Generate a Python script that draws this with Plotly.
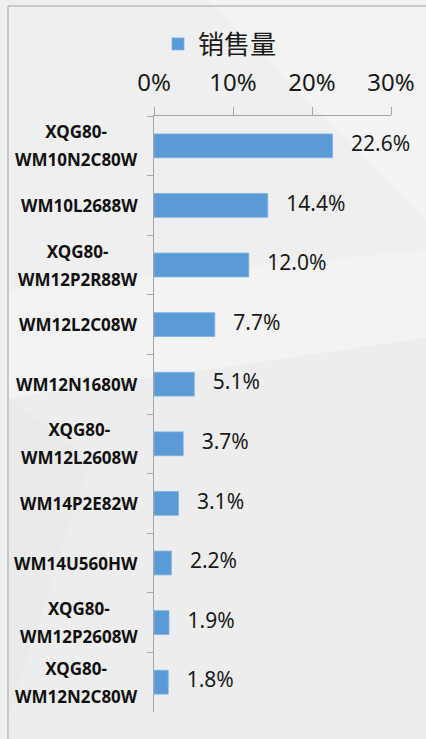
import plotly.graph_objects as go

categories = ["XQG80-WM10N2C80W", "WM10L2688W", "XQG80-WM12P2R88W", "WM12L2C08W",
              "WM12N1680W", "XQG80-WM12L2608W", "WM14P2E82W", "WM14U560HW",
              "XQG80-WM12P2608W", "XQG80-WM12N2C80W"]
values = [22.6, 14.4, 12.0, 7.7, 5.1, 3.7, 3.1, 2.2, 1.9, 1.8]
x_ticks = [0, 10, 20, 30]
x_tick_labels = ["0%", "10%", "20%", "30%"]
series_name = "销售量"

W, H = 426, 739
L, R, T, B = 154, 35, 116, 27
PW, PH = W - L - R, H - T - B


def xp(px):
    return (px - L) / PW


def yp(py):
    return (H - B - py) / PH


def poly(pts):
    return "M" + " L".join(f"{xp(a):.4f},{yp(b):.4f}" for a, b in pts) + " Z"


fig = go.Figure()
fig.add_trace(go.Bar(
    y=categories, x=values, orientation="h", name=series_name,
    marker=dict(color="#5B9BD5", line=dict(color="#7fb2e0", width=0.8)),
    width=0.4, showlegend=True, hoverinfo="x+y",
))
# data labels placed just right of each bar end
fig.add_trace(go.Scatter(
    y=categories, x=values, mode="markers+text", showlegend=False,
    marker=dict(size=28, color="rgba(0,0,0,0)"),
    texttemplate="%{x:.1f}%", textposition="middle right",
    textfont=dict(size=21, color="#1a1a1a", family="Noto Sans"),
    cliponaxis=False, hoverinfo="skip",
))

annotations = []
for c in categories:
    if "-" in c:
        a, b = c.split("-", 1)
        txt = (f"<span style='font-size:17px'><b>{a}-</b></span><br>"
               f"<span style='font-size:17px'><b>{b}</b></span>")
    else:
        txt = f"<span style='font-size:17px'><b>{c}</b></span>"
    annotations.append(dict(
        x=0, xref="paper", y=c, yref="y", xanchor="right", yanchor="middle",
        xshift=-14, text=txt, showarrow=False, align="center",
        font=dict(size=21.5, color="#111111", family="Noto Sans"),
    ))

shapes = [
    dict(type="path", path=poly([(207, 0), (426, 0), (426, 220)]),
         xref="paper", yref="paper", fillcolor="#f3f3f3", line=dict(width=0), layer="below"),
    dict(type="path", path=poly([(8, 290), (426, 250), (426, 338), (8, 398)]),
         xref="paper", yref="paper", fillcolor="#f3f3f3", line=dict(width=0), layer="below"),
    dict(type="path", path=poly([(8, 398), (426, 338), (426, 739), (8, 739)]),
         xref="paper", yref="paper", fillcolor="#ededed", line=dict(width=0), layer="below"),
    dict(type="path", path=poly([(8, 398), (90, 460), (8, 720)]),
         xref="paper", yref="paper", fillcolor="#eaeaea", line=dict(width=0), layer="below"),
    dict(type="line", x0=xp(8), x1=xp(426), y0=yp(6), y1=yp(6),
         xref="paper", yref="paper", line=dict(color="#bdbdbd", width=1.5)),
    dict(type="line", x0=xp(8), x1=xp(8), y0=yp(6), y1=yp(739),
         xref="paper", yref="paper", line=dict(color="#bdbdbd", width=1.5)),
]

fig.update_layout(
    width=W, height=H,
    margin=dict(l=L, r=R, t=T, b=B, autoexpand=False),
    paper_bgcolor="#efefef", plot_bgcolor="rgba(0,0,0,0)",
    font=dict(family="Noto Sans", color="#1a1a1a"),
    bargap=0.6,
    showlegend=True,
    legend=dict(orientation="h", x=158 / W, y=1 - 44 / H, xref="container", yref="container",
                xanchor="left", yanchor="middle", bgcolor="rgba(0,0,0,0)",
                font=dict(size=26, family="Noto Sans CJK SC", color="#1a1a1a"),
                itemwidth=30),
    xaxis=dict(range=[0, 30], side="top", tickvals=x_ticks, ticktext=x_tick_labels,
               automargin=False,
               showgrid=False, zeroline=False, showline=True, linecolor="#a6a6a6", linewidth=1.2,
               ticks="outside", ticklen=8, tickcolor="#a6a6a6", tickwidth=1.2,
               ticklabelstandoff=6,
               tickfont=dict(size=24, color="#1a1a1a", family="Noto Sans")),
    yaxis=dict(range=[len(categories) - 0.5, -0.5], showticklabels=False, tickson="boundaries",
               automargin=False,
               ticks="outside", ticklen=6, tickcolor="#a6a6a6", tickwidth=1.2,
               showline=True, linecolor="#a6a6a6", linewidth=1.2, showgrid=False),
    annotations=annotations,
    shapes=shapes,
)

fig.write_html("out.html", post_script="document.body.style.margin='0';",
               config={"displayModeBar": False})
